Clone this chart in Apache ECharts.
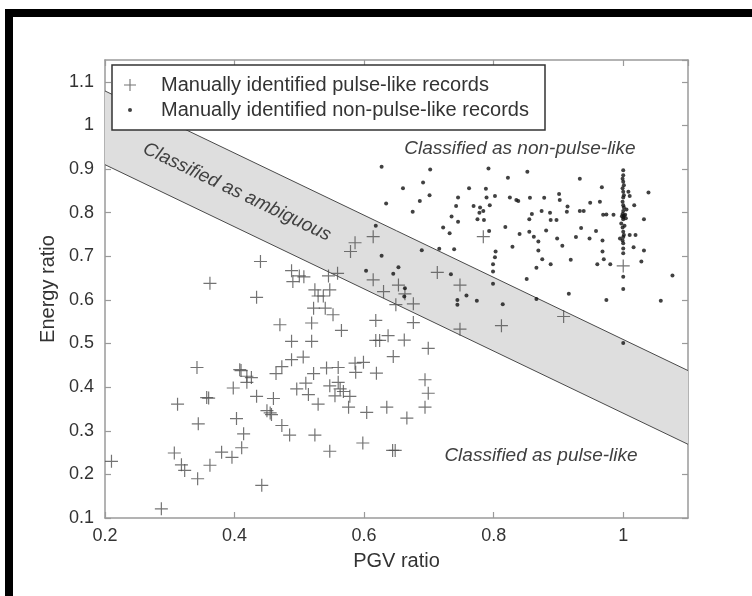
<!DOCTYPE html>
<html><head><meta charset="utf-8">
<script src="https://cdn.jsdelivr.net/npm/echarts@6/dist/echarts.min.js"></script>
<style>html,body{margin:0;padding:0;background:#fff}#c{width:752px;height:596px}</style>
</head><body><div id="c"></div>
<script>
// ---- data ----
const xTicks = [0.2, 0.4, 0.6, 0.8, 1];
const yTicks = [0.1, 0.2, 0.3, 0.4, 0.5, 0.6, 0.7, 0.8, 0.9, 1, 1.1];
const xRange = [0.2, 1.1];
const yRange = [0.1, 1.15];

// classification band boundaries (PGV ratio -> Energy ratio)
const bandX = [0.2, 1.1];
const bandLower = [0.910, 0.269];
const bandUpper = [1.079, 0.438];

const pulseName = 'Manually identified pulse-like records';
const nonPulseName = 'Manually identified non-pulse-like records';

const pulseRecords = [
  [0.522,0.581],[0.540,0.581],[0.552,0.566],[0.470,0.543],[0.519,0.547],[0.565,0.530],[0.618,0.553],[0.676,0.548],[0.649,0.589],[0.676,0.591],
  [0.488,0.505],[0.519,0.505],[0.618,0.507],[0.624,0.507],[0.637,0.518],[0.662,0.508],[0.699,0.489],
  [0.342,0.445],[0.408,0.440],[0.410,0.438],[0.419,0.425],[0.426,0.422],[0.473,0.447],[0.464,0.431],[0.488,0.463],[0.506,0.469],[0.522,0.431],
  [0.542,0.444],[0.560,0.445],[0.586,0.455],[0.599,0.457],[0.587,0.434],[0.619,0.432],[0.645,0.470],
  [0.398,0.398],[0.419,0.411],[0.434,0.379],[0.460,0.374],[0.496,0.396],[0.510,0.409],[0.514,0.383],[0.529,0.361],[0.547,0.403],[0.560,0.411],
  [0.563,0.396],[0.555,0.380],[0.568,0.390],[0.578,0.379],[0.576,0.354],[0.604,0.342],[0.635,0.354],[0.666,0.329],[0.694,0.417],[0.699,0.386],[0.694,0.354],
  [0.312,0.361],[0.357,0.376],[0.360,0.375],[0.344,0.316],[0.403,0.328],[0.414,0.293],[0.450,0.346],[0.457,0.337],[0.455,0.341],[0.473,0.312],
  [0.485,0.290],[0.524,0.290],[0.547,0.253],[0.598,0.272],[0.644,0.255],[0.648,0.255],
  [0.307,0.249],[0.318,0.222],[0.323,0.209],[0.343,0.190],[0.362,0.221],[0.380,0.251],[0.396,0.239],[0.411,0.261],[0.442,0.175],[0.287,0.121],[0.210,0.230],
  [0.586,0.731],[0.579,0.711],[0.614,0.745],[0.440,0.688],[0.488,0.667],[0.500,0.655],[0.507,0.653],[0.545,0.655],[0.559,0.661],[0.490,0.642],
  [0.362,0.638],[0.434,0.606],[0.524,0.623],[0.529,0.609],[0.537,0.609],[0.547,0.623],[0.614,0.646],[0.630,0.619],[0.653,0.634],
  [0.784,0.745],[0.713,0.663],[0.748,0.634],[0.663,0.614],[0.748,0.533],[0.812,0.541],[0.908,0.562],[1.000,0.678]
];

const nonPulseRecords = [
  [0.627,0.905],[0.634,0.821],[0.618,0.770],[0.627,0.701],[0.603,0.667],[0.645,0.660],[0.653,0.675],
  [0.702,0.899],[0.792,0.901],[0.852,0.894],[0.822,0.880],[0.933,0.878],[0.691,0.869],[0.660,0.856],[0.686,0.827],[0.701,0.840],
  [0.675,0.802],[0.745,0.835],[0.762,0.856],[0.788,0.855],[0.789,0.835],[0.802,0.838],[0.825,0.835],[0.835,0.829],[0.838,0.827],
  [0.856,0.834],[0.878,0.834],[0.901,0.843],[0.902,0.829],[0.914,0.814],[0.913,0.802],[0.933,0.804],[0.939,0.804],[0.949,0.823],
  [0.964,0.825],[0.967,0.858],[1.039,0.846],[1.017,0.817],[1.010,0.838],[1.008,0.848],[1.005,0.807],[1.032,0.785],[0.969,0.795],
  [0.974,0.796],[0.985,0.795],[0.742,0.815],[0.769,0.815],[0.779,0.812],[0.778,0.800],[0.784,0.804],[0.775,0.785],[0.785,0.783],
  [0.794,0.817],[0.735,0.791],[0.745,0.779],[0.722,0.766],[0.732,0.753],[0.793,0.758],[0.818,0.767],[0.840,0.751],[0.855,0.785],
  [0.859,0.797],[0.874,0.804],[0.887,0.800],[0.888,0.783],[0.897,0.783],[0.855,0.756],[0.862,0.745],[0.869,0.734],[0.881,0.759],
  [0.898,0.741],[0.906,0.724],[0.927,0.744],[0.935,0.765],[0.948,0.741],[0.958,0.758],[0.968,0.736],[0.995,0.741],[1.010,0.749],
  [1.019,0.749],[1.016,0.721],[1.032,0.713],[0.968,0.711],[0.970,0.693],[0.980,0.682],[0.960,0.682],[1.028,0.688],[0.869,0.713],
  [0.875,0.693],[0.888,0.682],[0.919,0.692],[0.866,0.674],[0.851,0.648],[0.829,0.722],[0.803,0.711],[0.802,0.698],[0.799,0.682],
  [0.799,0.665],[0.799,0.637],[0.689,0.714],[0.716,0.717],[0.739,0.716],[0.734,0.659],[0.663,0.627],[0.662,0.608],[0.758,0.610],
  [0.774,0.598],[0.744,0.600],[0.744,0.589],[0.814,0.590],[0.866,0.602],[0.916,0.614],[0.974,0.600],[1.058,0.598],[1.076,0.656],
  [1.000,0.897],[1.000,0.886],[0.999,0.878],[1.000,0.871],[1.001,0.863],[0.999,0.856],[1.000,0.848],[1.001,0.840],[1.000,0.835],
  [0.999,0.825],[1.000,0.817],[1.001,0.812],[1.000,0.804],[0.999,0.797],[1.001,0.793],[1.000,0.789],[1.000,0.785],[0.999,0.766],
  [1.000,0.756],[1.001,0.749],[1.000,0.744],[0.999,0.736],[1.000,0.730],[1.000,0.718],[1.000,0.707],[1.000,0.653],[1.000,0.625],
  [1.000,0.501],[0.998,0.792],[1.003,0.795],[1.004,0.787],[0.997,0.775],[1.002,0.770]
];

// ---- chart ----
const F = "'Liberation Sans', Arial, sans-serif";
const axisCol = '#9a9a9a';
const PLUS = 'path://M5.45,0 H6.55 V5.45 H12 V6.55 H6.55 V12 H5.45 V6.55 H0 V5.45 H5.45 Z';

function fmt(ticks) {
  return function (v) {
    const r = Math.round(v * 100) / 100;
    return ticks.some(t => Math.abs(t - r) < 1e-6) ? String(r) : '';
  };
}
function axisBase(range, interval) {
  return {
    type: 'value', min: range[0], max: range[1], interval: interval,
    axisLine: { show: true, onZero: false, lineStyle: { color: axisCol, width: 1.5 } },
    axisTick: { show: true, inside: true, length: 6, lineStyle: { color: axisCol, width: 1.2 } },
    splitLine: { show: false }
  };
}

const chart = echarts.init(document.getElementById('c'), null, { renderer: 'canvas' });
chart.setOption({
  animation: false,
  backgroundColor: '#fff',
  grid: { left: 105, top: 60, width: 583, height: 458, containLabel: false, outerBoundsMode: 'none' },
  xAxis: [
    Object.assign(axisBase(xRange, 0.2), {
      position: 'bottom',
      axisLabel: { color: '#333', fontSize: 18, fontFamily: F, margin: 9, formatter: fmt(xTicks), showMaxLabel: false },
      name: 'PGV ratio', nameLocation: 'middle', nameGap: 33,
      nameTextStyle: { fontSize: 20, color: '#333', fontFamily: F }
    }),
    Object.assign(axisBase(xRange, 0.2), { position: 'top', axisLabel: { show: false } })
  ],
  yAxis: [
    Object.assign(axisBase(yRange, 0.1), {
      position: 'left',
      axisLabel: { color: '#333', fontSize: 18, fontFamily: F, margin: 11, formatter: fmt(yTicks), showMaxLabel: false },
      name: 'Energy ratio', nameLocation: 'middle', nameGap: 47,
      nameTextStyle: { fontSize: 20, color: '#333', fontFamily: F }
    }),
    Object.assign(axisBase(yRange, 0.1), { position: 'right', axisLabel: { show: false } })
  ],
  legend: [
    { data: [pulseName], left: 124, top: 73, padding: 0, itemWidth: 12, itemHeight: 12, icon: PLUS,
      selectedMode: false, z: 10,
      textStyle: { fontSize: 20, color: '#333', fontFamily: F, lineHeight: 24, padding: [0, 0, 0, 20] } },
    { data: [nonPulseName], left: 128, top: 98, padding: 0, itemWidth: 4, itemHeight: 4, icon: 'circle',
      selectedMode: false, z: 10,
      textStyle: { fontSize: 20, color: '#333', fontFamily: F, lineHeight: 24, padding: [0, 0, 0, 24] } }
  ],
  graphic: [
    { type: 'rect', z: 9, shape: { x: 112, y: 65, width: 433, height: 65 }, style: { fill: '#fff', stroke: '#333', lineWidth: 1.5 } },
    { type: 'text', z: 5, x: 520, y: 149, style: { text: 'Classified as non-pulse-like', fontSize: 19, fontStyle: 'italic', fontFamily: F, fill: '#404040', align: 'center', verticalAlign: 'middle' } },
    { type: 'text', z: 5, x: 541, y: 456, style: { text: 'Classified as pulse-like', fontSize: 19, fontStyle: 'italic', fontFamily: F, fill: '#404040', align: 'center', verticalAlign: 'middle' } },
    { type: 'text', z: 5, x: 237, y: 192, rotation: -25.5 * Math.PI / 180, style: { text: 'Classified as ambiguous', fontSize: 19, fontStyle: 'italic', fontFamily: F, fill: '#404040', align: 'center', verticalAlign: 'middle' } },
    { type: 'rect', z: 100, shape: { x: 5, y: 9, width: 747, height: 8 }, style: { fill: '#000' } },
    { type: 'rect', z: 100, shape: { x: 5, y: 9, width: 8, height: 587 }, style: { fill: '#000' } }
  ],
  series: [
    {
      type: 'custom', name: 'band', silent: true, z: 1,
      data: [[bandX[0], bandLower[0]]],
      renderItem: function (params, api) {
        const up = bandX.map((x, i) => api.coord([x, bandUpper[i]]));
        const lo = bandX.map((x, i) => api.coord([x, bandLower[i]]));
        return {
          type: 'group',
          children: [
            { type: 'polygon', shape: { points: up.concat(lo.slice().reverse()) }, style: { fill: '#dedede', stroke: null } },
            { type: 'polyline', shape: { points: up }, style: { stroke: '#4a4a4a', lineWidth: 1, fill: null } },
            { type: 'polyline', shape: { points: lo }, style: { stroke: '#4a4a4a', lineWidth: 1, fill: null } }
          ]
        };
      }
    },
    { type: 'scatter', name: pulseName, data: pulseRecords, symbol: PLUS, symbolSize: 13, z: 3,
      itemStyle: { color: '#505050' } },
    { type: 'scatter', name: nonPulseName, data: nonPulseRecords, symbol: 'circle', symbolSize: 4, z: 3,
      itemStyle: { color: '#111' } }
  ]
});
</script>
</body></html>
